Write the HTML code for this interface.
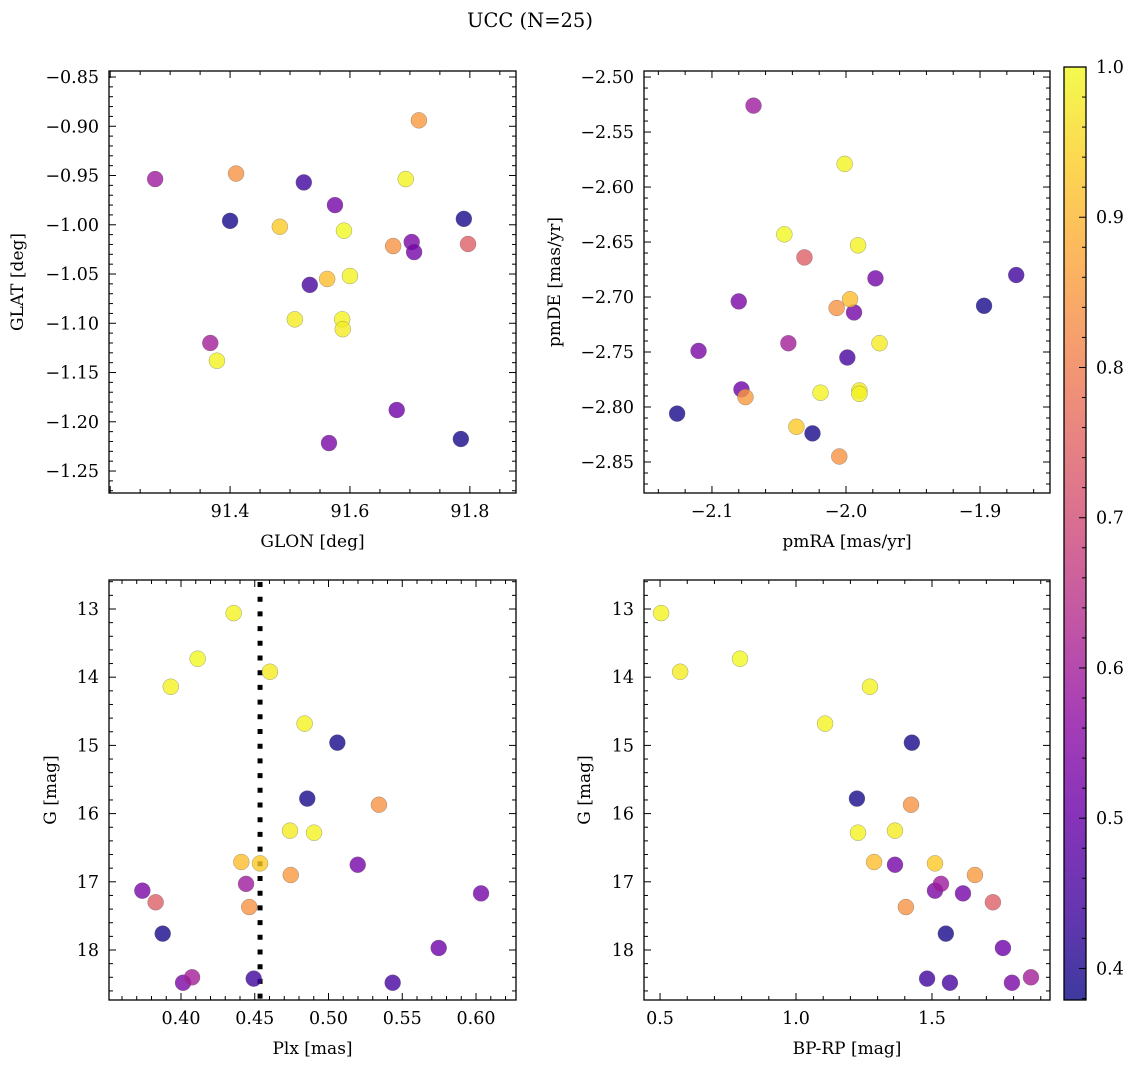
<!DOCTYPE html>
<html><head><meta charset="utf-8">
<style>
html,body{margin:0;padding:0;background:#fff;}
svg{display:block;font-family:"DejaVu Serif","Liberation Serif",serif;}
</style></head>
<body>
<svg id="fig" width="1136" height="1067" viewBox="0 0 1136 1067" xmlns="http://www.w3.org/2000/svg">
<text x="530" y="27" font-size="19.5" text-anchor="middle">UCC (N=25)</text>
</svg>
<script>
const glon = [91.40,91.79,91.785, 91.523,91.533, 91.575,91.703,91.707,91.678,91.565, 91.275,91.367, 91.797, 91.41,91.715,91.672, 91.562,91.483, 91.693,91.59,91.60,91.508,91.587,91.588,91.378];
const glat = [-0.996,-0.994,-1.2175, -0.957,-1.061, -0.980,-1.0175,-1.0277,-1.188,-1.2216, -0.9536,-1.120, -1.0195, -0.948,-0.894,-1.0216, -1.055,-1.002, -0.9536,-1.006,-1.052,-1.096,-1.096,-1.106,-1.138];
const pmra = [-1.897,-2.126,-2.025, -1.873,-1.999, -1.978,-2.080,-1.994,-2.078,-2.110, -2.069,-2.043, -2.031, -2.007,-2.075,-2.005, -1.997,-2.037, -2.001,-2.046,-1.991,-1.975,-2.019,-1.990,-1.990];
const pmde = [-2.708,-2.806,-2.824, -2.680,-2.755, -2.683,-2.704,-2.714,-2.784,-2.749, -2.526,-2.742, -2.664, -2.710,-2.791,-2.845, -2.702,-2.818, -2.579,-2.643,-2.653,-2.742,-2.787,-2.785,-2.788];
const plx = [0.506,0.4856,0.3876, 0.4493,0.5435, 0.5198,0.3738,0.6034,0.5747,0.4014, 0.4441,0.4075, 0.3828, 0.5342,0.4744,0.4463, 0.4409,0.4536, 0.4357,0.4113,0.3931,0.4603,0.4838,0.4739,0.4902];
const gmag = [14.96,15.78,17.76, 18.42,18.48, 16.75,17.13,17.17,17.97,18.48, 17.03,18.40, 17.30, 15.87,16.90,17.37, 16.71,16.73, 13.06,13.73,14.14,13.92,14.68,16.25,16.28];
const bprp = [1.426,1.224,1.551, 1.482,1.566, 1.364,1.511,1.614,1.761,1.794, 1.533,1.864, 1.724, 1.423,1.658,1.404, 1.287,1.511, 0.504,0.794,1.272,0.574,1.107,1.364,1.228];
const prob = [0.39,0.39,0.39, 0.44,0.45, 0.52,0.53,0.52,0.51,0.53, 0.59,0.60, 0.74, 0.84,0.85,0.84, 0.91,0.93, 0.99,1.0,0.99,0.98,0.99,0.98,0.99];
const plxLine = 0.4536;
const cbTicks = [0.4,0.5,0.6,0.7,0.8,0.9,1.0];

const NS="http://www.w3.org/2000/svg";
const svg=document.getElementById('fig');
function mk(tag,attrs,parent){const e=document.createElementNS(NS,tag);for(const k in attrs)e.setAttribute(k,attrs[k]);(parent||svg).appendChild(e);return e;}
const stops=["#0d0887","#41049d","#6a00a8","#8f0da4","#b12a90","#cc4778","#e16462","#f2844b","#fca636","#fcce25","#f0f921"];
function hex(h){return [1,3,5].map(i=>parseInt(h.substr(i,2),16));}
function plasma(t){t=Math.max(0,Math.min(1,t));const f=t*10,i=Math.min(9,Math.floor(f)),r=f-i;const a=hex(stops[i]),b=hex(stops[i+1]);return 'rgb('+a.map((v,k)=>Math.round(v+(b[k]-v)*r)).join(',')+')';}
const cmin=0.379,cmax=1.0;
function col(p){return plasma((p-cmin)/(cmax-cmin));}
function fmt(v,d){return v.toFixed(d).replace('-','\u2212');}
const TF=17.5, LF=17;

function panel(cfg){
  const [x0,y0,x1,y1]=cfg.box;
  const sx=v=>x0+(v-cfg.xd[0])/(cfg.xd[1]-cfg.xd[0])*(x1-x0);
  const sy=v=>y0+(v-cfg.yd[0])/(cfg.yd[1]-cfg.yd[0])*(y1-y0);
  const g=mk('g',{});
  
  
  const tg=mk('g',{stroke:'#000','stroke-width':1},g);
  const xlo=Math.min(...cfg.xd),xhi=Math.max(...cfg.xd),ylo=Math.min(...cfg.yd),yhi=Math.max(...cfg.yd);
  for(let k=Math.ceil(xlo/cfg.xmin-1e-6);k*cfg.xmin<=xhi+1e-9;k++){const v=k*cfg.xmin;const maj=Math.abs(v/cfg.xmaj-Math.round(v/cfg.xmaj))<1e-4;const L=maj?7:4;const X=sx(v);
    mk('line',{x1:X,x2:X,y1:y1,y2:y1-L},tg);mk('line',{x1:X,x2:X,y1:y0,y2:y0+L},tg);}
  for(let k=Math.ceil(ylo/cfg.ymin-1e-6);k*cfg.ymin<=yhi+1e-9;k++){const v=k*cfg.ymin;const maj=Math.abs(v/cfg.ymaj-Math.round(v/cfg.ymaj))<1e-4;const L=maj?7:4;const Y=sy(v);
    mk('line',{x1:x0,x2:x0+L,y1:Y,y2:Y},tg);mk('line',{x1:x1,x2:x1-L,y1:Y,y2:Y},tg);}
  cfg.xticks.forEach(v=>{const t=mk('text',{x:sx(v),y:y1+24,'font-size':TF,'text-anchor':'middle'},g);t.textContent=fmt(v,cfg.xdec);
    });
  cfg.yticks.forEach(v=>{const t=mk('text',{x:x0-10,y:sy(v)+6,'font-size':TF,'text-anchor':'end'},g);t.textContent=fmt(v,cfg.ydec);
    });
  const xl=mk('text',{x:(x0+x1)/2,y:y1+54,'font-size':LF,'text-anchor':'middle'},g);xl.textContent=cfg.xlabel;
  
  const yl=mk('text',{x:0,y:0,'font-size':LF,'text-anchor':'middle',transform:`translate(${cfg.ylx},${(y0+y1)/2}) rotate(-90)`},g);yl.textContent=cfg.ylabel;
  
  if(cfg.vline!==undefined){const l=mk('line',{x1:sx(cfg.vline),x2:sx(cfg.vline),y1:y0+2,y2:y1,stroke:'#000','stroke-width':5,'stroke-dasharray':'5 9.7'},g);
    }
  for(let i=0;i<cfg.xs.length;i++){
    const c=mk('circle',{cx:sx(cfg.xs[i]),cy:sy(cfg.ys[i]),r:8,fill:col(prob[i]),'fill-opacity':0.8,stroke:'#666','stroke-opacity':0.6,'stroke-width':0.5},g);
    
    
  }
  mk('rect',{x:x0,y:y0,width:x1-x0,height:y1-y0,fill:'none',stroke:'#000','stroke-width':1.3},g);
}
panel({name:'glon-glat-panel',box:[109,71,516,493],xd:[91.198,91.877],yd:[-0.8439,-1.2723],xmaj:0.2,xmin:0.05,ymaj:0.05,ymin:0.01,
  xticks:[91.4,91.6,91.8],xdec:1,yticks:[-0.85,-0.9,-0.95,-1.0,-1.05,-1.1,-1.15,-1.2,-1.25],ydec:2,xlabel:'GLON [deg]',ylabel:'GLAT [deg]',ylx:23,xs:glon,ys:glat});
panel({name:'pm-panel',box:[644,71,1050,493],xd:[-2.1507,-1.8478],yd:[-2.4945,-2.8782],xmaj:0.1,xmin:0.02,ymaj:0.05,ymin:0.01,
  xticks:[-2.1,-2.0,-1.9],xdec:1,yticks:[-2.5,-2.55,-2.6,-2.65,-2.7,-2.75,-2.8,-2.85],ydec:2,xlabel:'pmRA [mas/yr]',ylabel:'pmDE [mas/yr]',ylx:560,xs:pmra,ys:pmde});
panel({name:'plx-g-panel',box:[109,580,516,1000],xd:[0.3512,0.6271],yd:[12.575,18.733],xmaj:0.05,xmin:0.01,ymaj:1,ymin:0.2,
  xticks:[0.4,0.45,0.5,0.55,0.6],xdec:2,yticks:[13,14,15,16,17,18],ydec:0,xlabel:'Plx [mas]',ylabel:'G [mag]',ylx:56,xs:plx,ys:gmag,vline:plxLine});
panel({name:'cmd-panel',box:[644,580,1050,1000],xd:[0.441,1.934],yd:[12.575,18.733],xmaj:0.5,xmin:0.1,ymaj:1,ymin:0.2,
  xticks:[0.5,1.0,1.5],xdec:1,yticks:[13,14,15,16,17,18],ydec:0,xlabel:'BP-RP [mag]',ylabel:'G [mag]',ylx:590,xs:bprp,ys:gmag});

const cb=mk('g',{});


const defs=mk('defs',{},cb);
const lg=mk('linearGradient',{id:'cbg',x1:0,y1:1,x2:0,y2:0},defs);
stops.forEach((s,i)=>mk('stop',{offset:i/10,'stop-color':s},lg));
const cx0=1064,cx1=1086,cy0=67,cy1=1000;
mk('rect',{x:cx0,y:cy0,width:cx1-cx0,height:cy1-cy0,fill:'url(#cbg)','fill-opacity':0.8},cb);
const csy=v=>cy1-(v-cmin)/(cmax-cmin)*(cy1-cy0);
for(let k=19;k<=50;k++){const v=k*0.02;if(v<cmin||v>cmax+1e-9)continue;const maj=Math.abs(v*10-Math.round(v*10))<1e-4;
  mk('line',{x1:cx1,x2:cx1-(maj?7:4),y1:csy(v),y2:csy(v),stroke:'#000','stroke-width':1},cb);}
cbTicks.forEach(v=>{const t=mk('text',{x:cx1+10,y:csy(v)+6,'font-size':TF},cb);t.textContent=v.toFixed(1);
  });
mk('rect',{x:cx0,y:cy0,width:cx1-cx0,height:cy1-cy0,fill:'none',stroke:'#000','stroke-width':1.3},cb);
</script>
</body></html>
